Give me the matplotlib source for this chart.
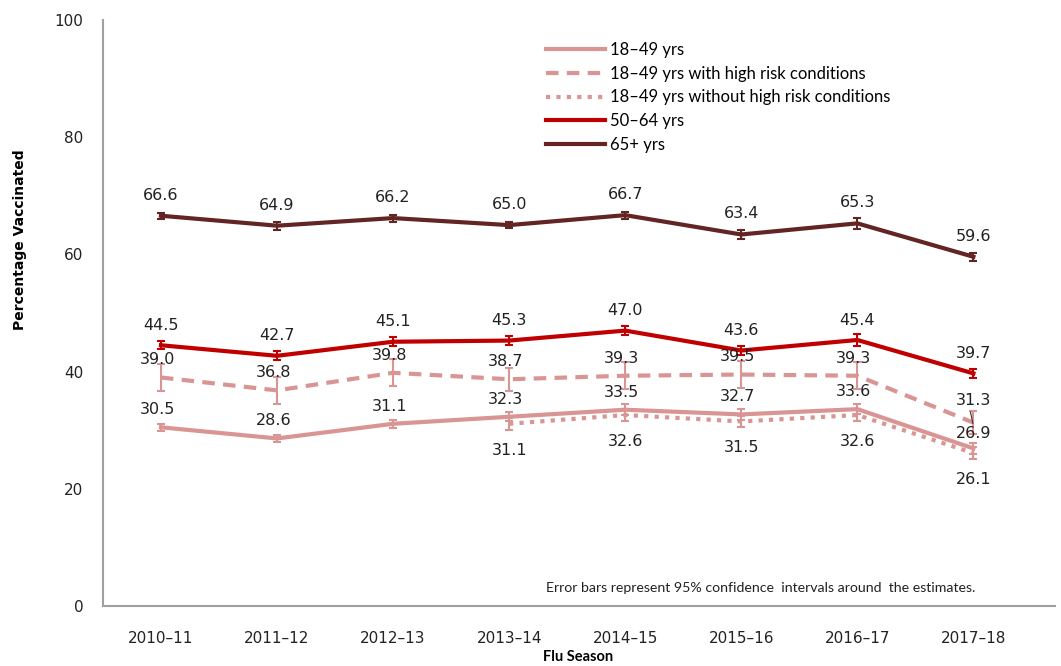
import matplotlib.pyplot as plt
from matplotlib.lines import Line2D

plt.rcParams['font.family'] = 'DejaVu Sans'

seasons = ['2010\u201311', '2011\u201312', '2012\u201313', '2013\u201314',
           '2014\u201315', '2015\u201316', '2016\u201317', '2017\u201318']

age_18_49 = [30.5, 28.6, 31.1, 32.3, 33.5, 32.7, 33.6, 26.9]
age_18_49_err = [0.6, 0.6, 0.7, 0.8, 0.9, 0.9, 0.9, 0.9]
high_risk = [39.0, 36.8, 39.8, 38.7, 39.3, 39.5, 39.3, 31.3]
high_risk_err = [2.3, 2.3, 2.3, 2.0, 2.3, 2.3, 2.3, 2.0]
no_risk = [31.1, 32.6, 31.5, 32.6, 26.1]   # 2013-14 onward
no_risk_err = [1.0, 1.0, 1.0, 1.0, 1.0]
age_50_64 = [44.5, 42.7, 45.1, 45.3, 47.0, 43.6, 45.4, 39.7]
age_50_64_err = [0.7, 0.8, 0.8, 0.7, 0.8, 0.8, 1.0, 0.8]
age_65 = [66.6, 64.9, 66.2, 65.0, 66.7, 63.4, 65.3, 59.6]
age_65_err = [0.5, 0.7, 0.6, 0.5, 0.6, 0.8, 0.9, 0.7]

pink = '#D99594'
red = '#C00000'
maroon = '#632523'

x = list(range(len(seasons)))
x_nr = x[3:]

fig = plt.figure(figsize=(10.61, 6.66), dpi=100)
ax = fig.add_axes([0.097, 0.09, 0.897, 0.88])

kw = dict(capsize=3, capthick=1.5, elinewidth=1.5, lw=3)
dashed = (0, (3, 2))
dotted = (0, (1, 1.5))
ax.errorbar(x, age_18_49, yerr=age_18_49_err, color=pink, **kw)
ax.errorbar(x, high_risk, yerr=high_risk_err, color=pink, ls=dashed, **kw)
ax.errorbar(x_nr, no_risk, yerr=no_risk_err, color=pink, ls=dotted, **kw)
ax.errorbar(x, age_50_64, yerr=age_50_64_err, color=red, **kw)
ax.errorbar(x, age_65, yerr=age_65_err, color=maroon, **kw)

lab = dict(ha='center', va='center', fontsize=11.5, color='#222222')
for i in x:
    ax.text(i, age_65[i] + 3.5, f'{age_65[i]:.1f}', **lab)
    ax.text(i, age_50_64[i] + 3.4, f'{age_50_64[i]:.1f}', **lab)
    if i < 7:
        ax.text(i - 0.03, high_risk[i] + 3.0, f'{high_risk[i]:.1f}', **lab)
        ax.text(i - 0.03, age_18_49[i] + 3.0, f'{age_18_49[i]:.1f}', **lab)
# last season labels sit close together
ax.text(7, high_risk[7] + 3.7, f'{high_risk[7]:.1f}', **lab)
ax.annotate('', xy=(7.0, high_risk[7] - 0.6), xytext=(6.97, high_risk[7] + 2.3),
            arrowprops=dict(arrowstyle='-', color='#333333', lw=0.8))
ax.text(7, age_18_49[7] + 2.6, f'{age_18_49[7]:.1f}', **lab)
for j, i in enumerate(x_nr):
    ax.text(i, no_risk[j] - 4.5, f'{no_risk[j]:.1f}', **lab)

ax.set_xlim(-0.5, 7.7)
ax.set_ylim(0, 100)
ax.set_yticks(range(0, 101, 20))
ax.set_xticks(x)
ax.set_xticklabels(seasons)
ax.tick_params(length=0, labelsize=11, colors='#222222', pad=18)
ax.tick_params(axis='y', pad=14)
for s in ['top', 'right']:
    ax.spines[s].set_visible(False)
for s in ['left', 'bottom']:
    ax.spines[s].set_color('#A0A0A0')
    ax.spines[s].set_linewidth(1.5)

fig.text(20 / 1061, 1 - 240 / 666, 'Percentage Vaccinated', rotation=90,
         ha='center', va='center', fontsize=10, fontweight='bold',
         family='Liberation Sans Narrow')
fig.text(578 / 1061, 1 - 657 / 666, 'Flu Season', ha='center', va='center',
         fontsize=10.5, fontweight='bold', family='Lato')

handles = [
    Line2D([], [], color=pink, lw=3),
    Line2D([], [], color=pink, lw=3, ls=dashed),
    Line2D([], [], color=pink, lw=3, ls=dotted),
    Line2D([], [], color=red, lw=3),
    Line2D([], [], color=maroon, lw=3),
]
labels = ['18\u201349 yrs', '18\u201349 yrs with high risk conditions',
          '18\u201349 yrs without high risk conditions', '50\u201364 yrs', '65+ yrs']
ax.legend(handles, labels, loc='upper left', bbox_to_anchor=(0.45, 0.988),
          frameon=False, prop={'family': 'Lato', 'size': 12}, handlelength=3.5,
          handletextpad=0.3, labelspacing=0.46)

ax.text(5.17, 3.1, 'Error bars represent 95% confidence  intervals around  the estimates.',
        ha='center', va='center', fontsize=10.2, family='Lato', color='#222222')

fig.savefig('out.png', dpi=100)
